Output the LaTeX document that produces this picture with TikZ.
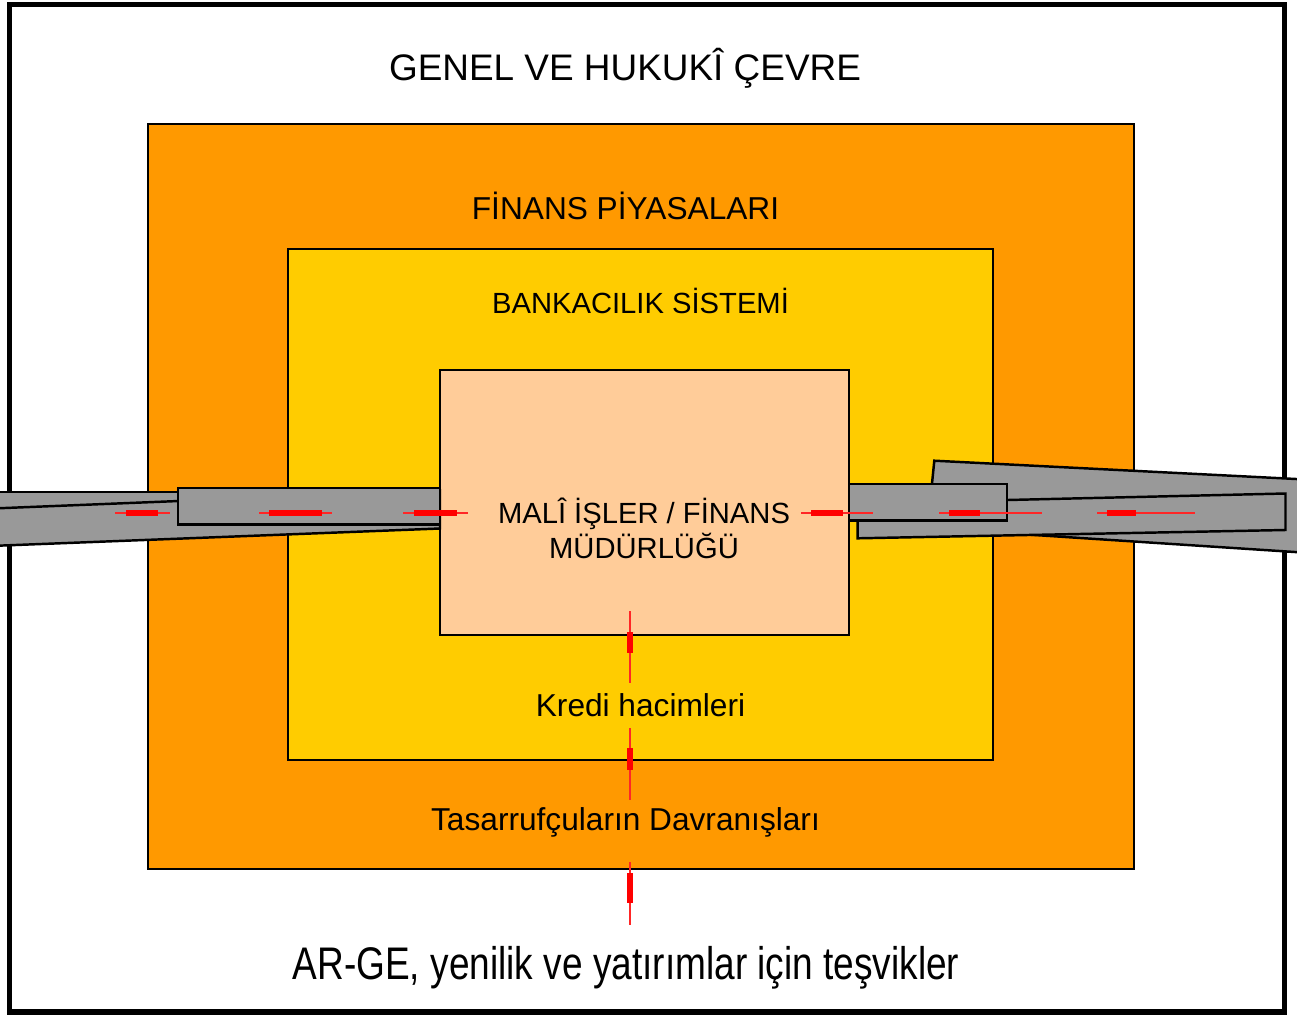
\documentclass[tikz,border=0pt]{standalone}
\usepackage{fontspec}
\setmainfont{Liberation Sans}
\usepackage{xcolor}
\usepackage{tikz}

\definecolor{marketorange}{HTML}{FF9900}
\definecolor{bankyellow}{HTML}{FFCC00}
\definecolor{deskpeach}{HTML}{FFCC99}
\definecolor{pipegray}{HTML}{999999}

\tikzset{
  layer/.style={draw=black, line width=0.5pt},
  pipe/.style={draw=black, fill=pipegray, line width=0.7pt, line join=miter},
  flowline/.style={draw=red!85!white, line width=0.75pt},
  flowtip/.style={draw=red, line width=1.8pt},
  label/.style={anchor=base, inner sep=0pt, text=black}
}

\begin{document}
\begin{tikzpicture}[x=0.01cm, y=-0.01cm]
\useasboundingbox (0,0) rectangle (1297,1015);
% outer frame and nested boxes
\draw[line width=1.45pt, fill=white] (9.5,4.5) rectangle (1284.5,1012);
\draw[layer, fill=marketorange] (148,124) rectangle (1134,869);
\draw[layer, fill=bankyellow] (288,249) rectangle (993,760);
\draw[layer, fill=deskpeach] (440,370) rectangle (849,635);

% left pipes
\draw[pipe] (-10,492) -- (178,492) -- (178,520) -- (-10,520) -- cycle;
\draw[pipe] (-10,508.6) -- (440,490.5) -- (440,528.5) -- (-10,546) -- cycle;
\draw[pipe] (178,488) rectangle (440,524.5);

% right pipes
\draw[pipe] (934.3,460.7) -- (1310,479.7) -- (1310,553) -- (927.5,528) -- cycle;
\draw[pipe] (857.7,503.5) -- (1285.5,493.5) -- (1285.5,530) -- (857.7,538.3) -- cycle;
\draw[pipe] (849,484) rectangle (1007,520.7);

% texts
\node[label, font=\fontsize{10.5}{12}\selectfont] (genel) at (625,80) {GENEL VE HUKUKÎ ÇEVRE};
\node[label, font=\fontsize{9}{11}\selectfont] (finans) at (625.5,219) {FİNANS PİYASALARI};
\node[label, font=\fontsize{8.3}{10}\selectfont] (banka) at (640.5,313) {BANKACILIK SİSTEMİ};
\node[anchor=center, inner sep=0pt, align=center, font=\fontsize{8.3}{8.6}\selectfont] (mudur) at (644,528) {MALÎ İŞLER / FİNANS\\MÜDÜRLÜĞÜ};
\node[label, font=\fontsize{9}{11}\selectfont] (kredi) at (640.5,716) {Kredi hacimleri};
\node[label, font=\fontsize{9}{11}\selectfont] (tasarruf) at (625.5,830) {Tasarrufçuların Davranışları};
\node[label, font=\fontsize{13}{15}\selectfont] (arge) at (626,979) {\scalebox{0.81}[1]{AR-GE, yenilik ve yatırımlar için teşvikler}};

% red flow marks, left
\draw[flowline] (115,513) -- (170,513); \draw[flowtip] (126,513) -- (158,513);
\draw[flowline] (259,513) -- (332,513); \draw[flowtip] (269,513) -- (322,513);
\draw[flowline] (403,513) -- (468,513); \draw[flowtip] (414,513) -- (457,513);
% red flow marks, right
\draw[flowline] (801,513) -- (873,513); \draw[flowtip] (811,513) -- (843,513);
\draw[flowline] (939,513) -- (1042,513); \draw[flowtip] (949,513) -- (980,513);
\draw[flowline] (1097,513) -- (1195,513); \draw[flowtip] (1107,513) -- (1136,513);
% red flow marks, bottom
\draw[flowline] (630,611) -- (630,683); \draw[flowtip] (630,632) -- (630,653);
\draw[flowline] (630,728) -- (630,800); \draw[flowtip] (630,748) -- (630,770);
\draw[flowline] (630,862) -- (630,925); \draw[flowtip] (630,873) -- (630,903);
\end{tikzpicture}
\end{document}
